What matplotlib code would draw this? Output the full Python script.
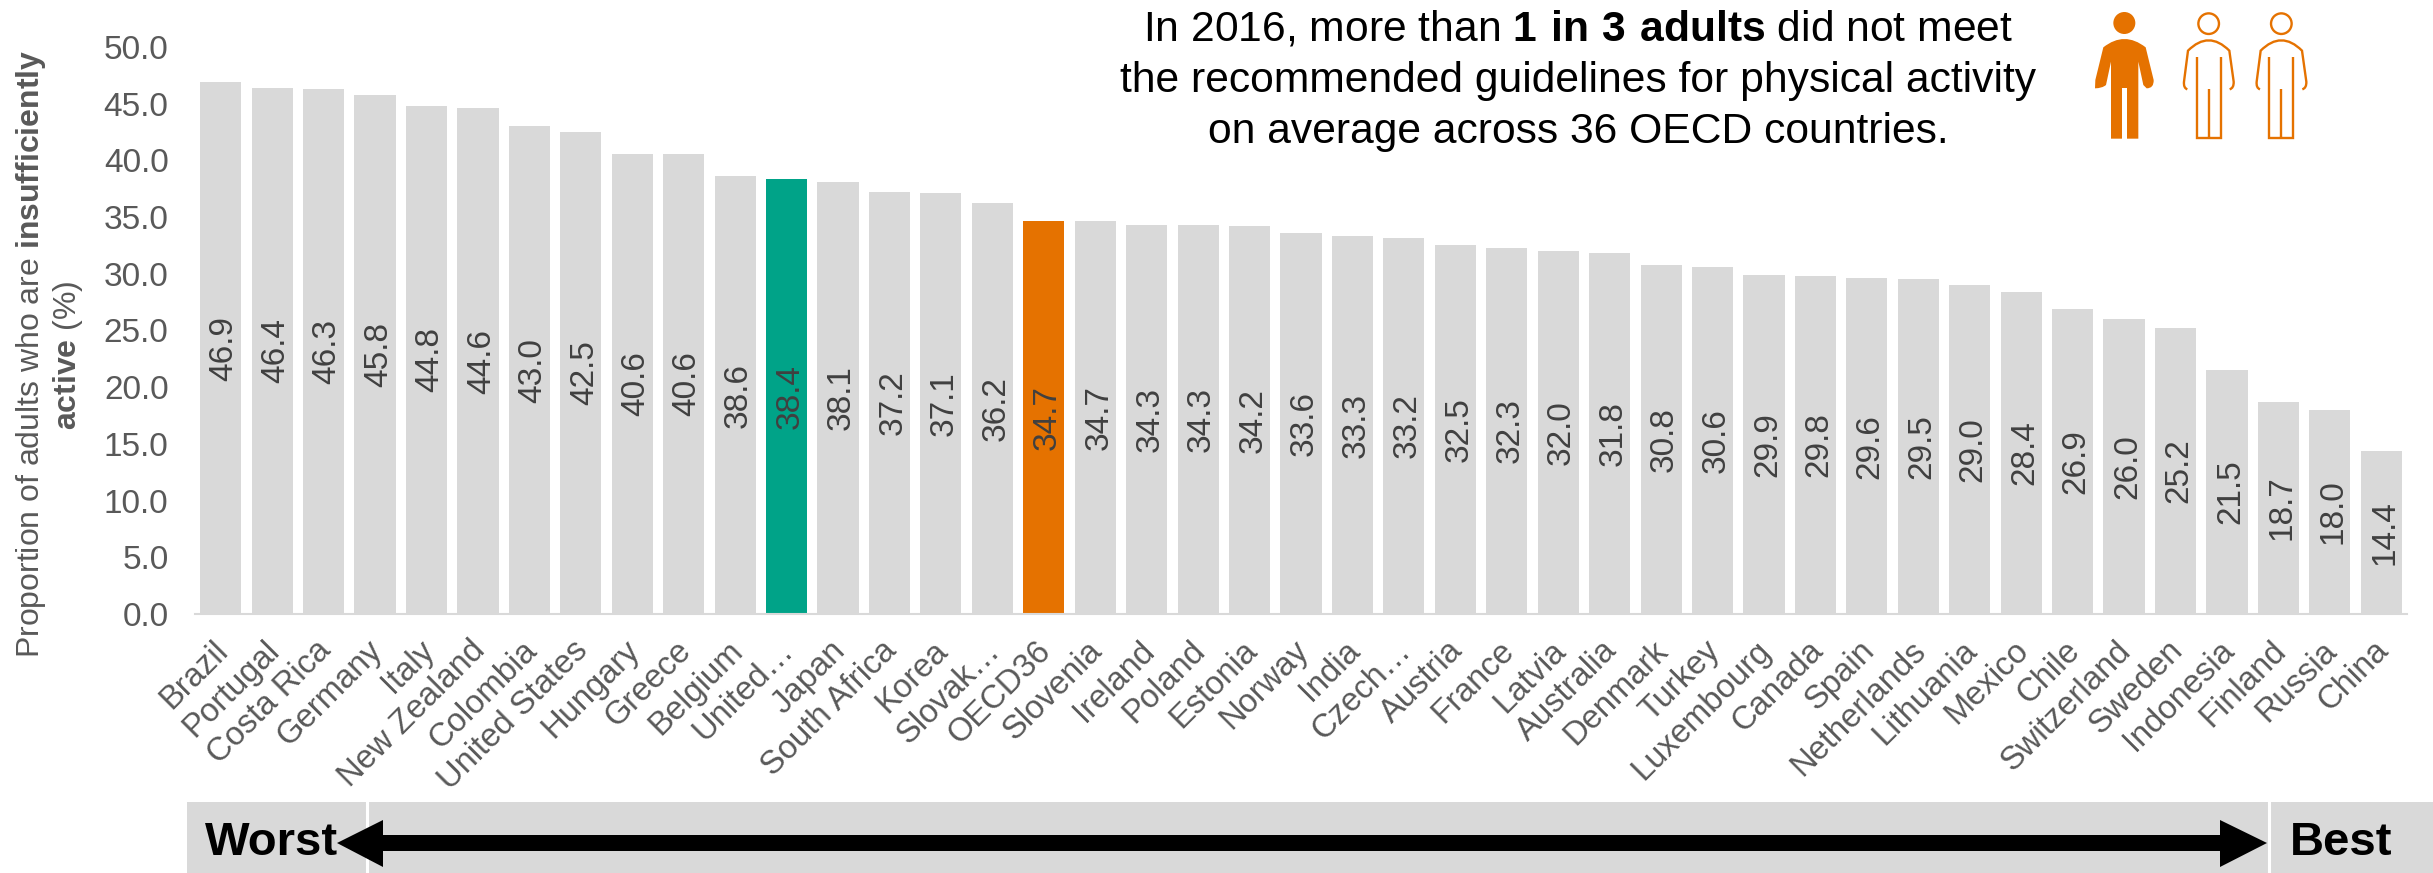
"""
Share of adults who are insufficiently active, by country, 2016.
"""

import matplotlib
matplotlib.use('Agg')
import matplotlib.pyplot as plt
from matplotlib.patches import Circle, PathPatch, Polygon, Rectangle
from matplotlib.path import Path
from matplotlib.transforms import ScaledTranslation

plt.rcParams['font.family'] = ['Liberation Sans', 'DejaVu Sans']
plt.rcParams['mathtext.fontset'] = 'custom'
plt.rcParams['mathtext.bf'] = 'Liberation Sans:bold'
plt.rcParams['mathtext.rm'] = 'Liberation Sans'

# Data
countries = ['Brazil', 'Portugal', 'Costa Rica', 'Germany', 'Italy', 'New Zealand',
             'Colombia', 'United States', 'Hungary', 'Greece', 'Belgium', 'United…',
             'Japan', 'South Africa', 'Korea', 'Slovak…', 'OECD36', 'Slovenia',
             'Ireland', 'Poland', 'Estonia', 'Norway', 'India', 'Czech…', 'Austria',
             'France', 'Latvia', 'Australia', 'Denmark', 'Turkey', 'Luxembourg',
             'Canada', 'Spain', 'Netherlands', 'Lithuania', 'Mexico', 'Chile',
             'Switzerland', 'Sweden', 'Indonesia', 'Finland', 'Russia', 'China']
values = [46.9, 46.4, 46.3, 45.8, 44.8, 44.6, 43.0, 42.5, 40.6, 40.6, 38.6, 38.4,
          38.1, 37.2, 37.1, 36.2, 34.7, 34.7, 34.3, 34.3, 34.2, 33.6, 33.3, 33.2,
          32.5, 32.3, 32.0, 31.8, 30.8, 30.6, 29.9, 29.8, 29.6, 29.5, 29.0, 28.4,
          26.9, 26.0, 25.2, 21.5, 18.7, 18.0, 14.4]
highlights = {'United…': '#00A388', 'OECD36': '#E57200'}
yticks = [0, 5, 10, 15, 20, 25, 30, 35, 40, 45, 50]

W, H = 2433, 873
GREY = '#D9D9D9'
ORANGE = '#E57200'
TEXT = '#595959'
FS = 24

fig = plt.figure(figsize=(W / 100, H / 100), dpi=100)

# Overlay in pixel coordinates for the banner, headline and icons
deco = fig.add_axes([0, 0, 1, 1], zorder=0)
deco.set_xlim(0, W)
deco.set_ylim(H, 0)
deco.axis('off')

# Bars
ax = fig.add_axes([195 / W, 1 - 614 / H, (2407 - 195) / W, (614 - 47) / H], zorder=1)
ax.patch.set_alpha(0)
colors = [highlights.get(c, GREY) for c in countries]
x = range(len(countries))
ax.bar(x, values, width=0.8, color=colors)
ax.set_xlim(-0.5, len(countries) - 0.5)
ax.set_ylim(0, 50)
ax.set_yticks(yticks)
ax.set_yticklabels([f'{v:.1f}' for v in yticks], fontsize=FS, color=TEXT)
ax.set_xticks(list(x))
ax.set_xticklabels(countries, fontsize=23.6, color=TEXT, rotation=45, ha='right',
                   va='top', rotation_mode='anchor')
ax.tick_params(axis='both', length=0)
ax.tick_params(axis='x', pad=15)
ax.tick_params(axis='y', pad=19)
shift = ScaledTranslation(-6 / 72, 0, fig.dpi_scale_trans)
for label in ax.get_xticklabels():
    label.set_transform(label.get_transform() + shift)
for side in ['top', 'left', 'right']:
    ax.spines[side].set_visible(False)
ax.spines['bottom'].set_color(GREY)
ax.spines['bottom'].set_linewidth(1.5)
for i, v in enumerate(values):
    ax.annotate(f'{v:.1f}', (i, v / 2), xytext=(2.5, 0), textcoords='offset points',
                rotation=90, ha='center', va='center', fontsize=FS, color='#404040')

# Y label
deco.text(31, 354, r'Proportion of adults who are $\mathbf{insufficiently}$', rotation=90,
          ha='center', va='center', fontsize=23, color=TEXT)
deco.text(68, 355, r'$\mathbf{active}$ (%)', rotation=90,
          ha='center', va='center', fontsize=23, color=TEXT)

# Headline
headline = [r'In 2016, more than $\mathbf{1\ in\ 3\ adults}$ did not meet',
            'the recommended guidelines for physical activity',
            'on average across 36 OECD countries.']
for line, y in zip(headline, [30, 81, 132]):
    deco.text(1578, y, line, ha='center', va='center', fontsize=30.7, color='black')

# Banner
deco.add_patch(Rectangle((187, 802), W - 187, H - 802, color=GREY, lw=0))
for xd in [367, 2269]:
    deco.plot([xd, xd], [802, H], color='white', lw=2.2)
deco.add_patch(Polygon([(337, 843), (383, 820), (383, 835), (2220, 835), (2220, 820),
                        (2267, 843), (2220, 867), (2220, 851), (383, 851), (383, 867)],
                       closed=True, color='black', lw=0, zorder=3))
deco.text(205, 843, 'Worst', ha='left', va='center', fontsize=34, fontweight='bold',
          color='black', zorder=4)
deco.text(2290, 843, 'Best', ha='left', va='center', fontsize=34, fontweight='bold',
          color='black', zorder=4)


# Icons, laid out in units of 1/3 pixel from (1980, 0)
def px(xz, yz, dx=0):
    return 1980 + (xz + dx) / 3, yz / 3


body = Path(
    [px(370, 142), px(433, 92), px(497, 142), px(521, 240), px(522, 265), px(500, 265),
     px(490, 255), px(475, 185), px(475, 416), px(441, 416), px(441, 264), px(426, 264),
     px(426, 416), px(393, 416), px(393, 185), px(378, 255), px(366, 265), px(345, 265),
     px(346, 240), px(370, 142)],
    [Path.MOVETO, Path.CURVE3, Path.CURVE3, Path.LINETO, Path.CURVE3, Path.CURVE3,
     Path.LINETO, Path.LINETO, Path.LINETO, Path.LINETO, Path.LINETO, Path.LINETO,
     Path.LINETO, Path.LINETO, Path.LINETO, Path.LINETO, Path.CURVE3, Path.CURVE3,
     Path.LINETO, Path.CLOSEPOLY])
deco.add_patch(PathPatch(body, facecolor=ORANGE, edgecolor='none'))
deco.add_patch(Circle(px(433, 69), 11, color=ORANGE, lw=0))

for dx in [0, 218]:
    deco.add_patch(Circle(px(686, 71, dx), 10.3, facecolor='none', edgecolor=ORANGE, lw=1.7))
    shell = Path(
        [px(622, 268, dx), px(610, 264, dx), px(612, 245, dx), px(624, 152, dx),
         px(686, 90, dx), px(748, 152, dx), px(761, 245, dx), px(762, 264, dx),
         px(749, 268, dx)],
        [Path.MOVETO, Path.CURVE3, Path.CURVE3, Path.LINETO, Path.CURVE3, Path.CURVE3,
         Path.LINETO, Path.CURVE3, Path.CURVE3])
    deco.add_patch(PathPatch(shell, facecolor='none', edgecolor=ORANGE, lw=1.7))
    legs = Path(
        [px(650, 172, dx), px(650, 414, dx), px(722, 414, dx), px(722, 172, dx),
         px(686, 268, dx), px(686, 414, dx)],
        [Path.MOVETO, Path.LINETO, Path.LINETO, Path.LINETO, Path.MOVETO, Path.LINETO])
    deco.add_patch(PathPatch(legs, facecolor='none', edgecolor=ORANGE, lw=1.7))

plt.savefig('out.png', dpi=100)
